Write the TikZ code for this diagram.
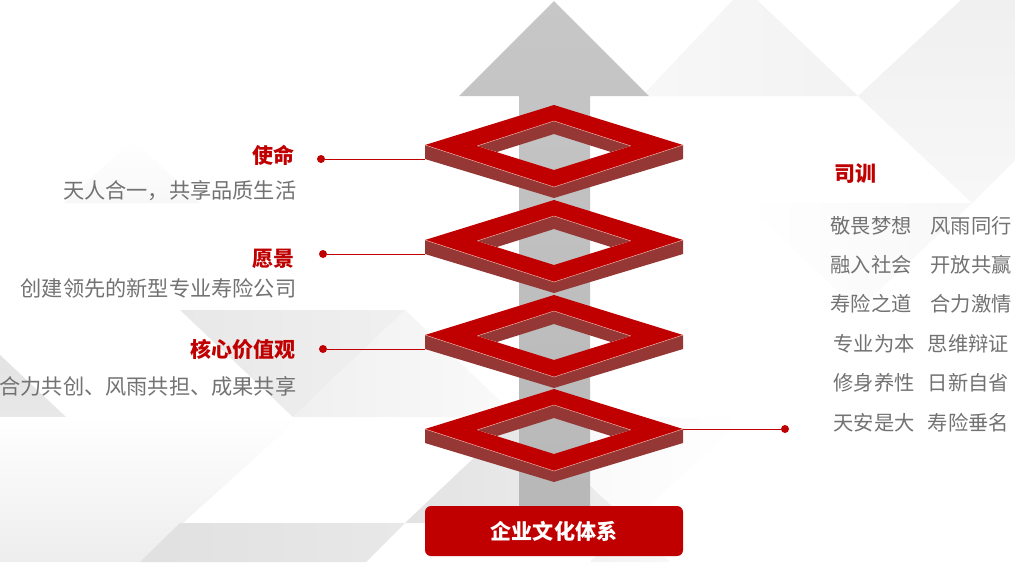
\documentclass[tikz,border=0pt]{standalone}
\usepackage{fontspec}
\setmainfont{Noto Sans CJK SC}
\newcommand{\ringat}[2]{%
\begin{scope}[shift={(0,#1)}]
\fill [ringwall] (425,145) -- (554,187) -- (683,145) -- (683,159) -- (554,198) -- (425,159) -- cycle;
\fill [ringwall] (477,146) -- (554,121) -- (631,146) -- (611,152) -- (554,134) -- (497,152) -- cycle;
\fill [ringtop, even odd rule] (425,145) -- (554,105) -- (683,145) -- (554,187) -- cycle (477,146) -- (554,121) -- (631,146) -- (554,170) -- cycle;
\draw [ringedge] (425,145) -- (554,187) -- (683,145);
\draw [ringedge] (477,146) -- (554,121) -- (631,146);
\coordinate (#2left) at (425,159);
\coordinate (#2right) at (683,145);
\end{scope}}

\begin{document}
\begin{tikzpicture}[x=0.75pt, y=-0.75pt,
  ringtop/.style = {fill=ringred},
  ringwall/.style = {fill=wallred},
  ringedge/.style = {draw=edgepink, line width=0.35pt},
  leader/.style = {draw=ringred, line width=0.75pt},
  dot/.style = {circle, fill=ringred, inner sep=0pt, minimum size=6pt},
  head/.style = {text=ringred, font=\fontsize{15.75}{18}\selectfont\bfseries},
  body/.style = {text=bodygray, font=\fontsize{15.9}{18}\selectfont},
  motto/.style = {text=bodygray, font=\fontsize{15.2}{18}\selectfont}]
\definecolor{ringred}{HTML}{C00000}
\definecolor{wallred}{HTML}{953735}
\definecolor{edgepink}{HTML}{E8B0A8}
\definecolor{bodygray}{HTML}{727272}
\useasboundingbox (0,0) rectangle (1015,562);
\fill [white] (0,0) rectangle (1015,562);

% pale background facets
\path [left color=black!3, right color=black!5] (642,96) -- (733,0) -- (757,0) -- (858,96) -- cycle;
\path [top color=black!6, bottom color=black!3] (858,96) -- (961,0) -- (1015,0) -- (1015,160) -- (972,203) -- cycle;
\path [left color=white, right color=black!3] (745,203) -- (972,203) -- (858,310) -- cycle;
\path [top color=white, bottom color=black!3] (64,203) -- (133,140) -- (200,203) -- cycle;
\path [left color=black!9, right color=black!6] (180,310) -- (405,310) -- (293,417) -- cycle;
\path [left color=black!6, right color=black!2] (293,417) -- (405,310) -- (517,417) -- cycle;
\path [top color=black!11, bottom color=black!9] (0,355) -- (66,417) -- (0,417) -- cycle;
\path [shading angle=-40, top color=white, middle color=white, bottom color=black!7] (0,417) -- (300,417) -- (140,562) -- (0,562) -- cycle;
\path [left color=black!12, right color=black!9] (180,523) -- (405,523) -- (366,562) -- (140,562) -- cycle;
\path [left color=black!11, right color=black!7] (405,523) -- (517,417) -- (630,523) -- cycle;
\path [left color=black!3, right color=white] (517,417) -- (745,417) -- (630,523) -- cycle;
\path [left color=black!5, right color=black!3] (590,562) -- (630,523) -- (670,562) -- cycle;

% arrow behind the rings
\path [top color=black!22, bottom color=black!28] (554,1) -- (649,96) -- (590,96) -- (590,506) -- (519,506) -- (519,96) -- (459,96) -- cycle;

\ringat{0}{mission}
\ringat{95}{vision}
\ringat{190}{values}
\ringat{284}{motto}

\node [fill=ringred, rounded corners=4.5pt, minimum width=193.5pt, minimum height=37.5pt, inner sep=0pt, text=white, font=\fontsize{15.8}{18}\selectfont\bfseries] (base) at (554,531) {企业文化体系};

% left labels
\node [dot] (missiondot) at (321,159) {};
\node [dot] (visiondot) at (323,254) {};
\node [dot] (valuesdot) at (323,349) {};
\node [dot] (mottodot) at (785,429) {};
\draw [leader] (missiondot) -- (missionleft);
\draw [leader] (visiondot) -- (visionleft);
\draw [leader] (valuesdot) -- (valuesleft);
\draw [leader] (mottoright) -- (mottodot);

\node [head, left, inner sep=0pt] (missionhead) at (295,155.5) {使命};
\node [body, left, inner sep=0pt] (missiontext) at (296.5,190.5) {天人合一，共享品质生活};
\node [head, left, inner sep=0pt] (visionhead) at (295,258.5) {愿景};
\node [body, left, inner sep=0pt] (visiontext) at (296.5,288.5) {创建领先的新型专业寿险公司};
\node [head, left, inner sep=0pt] (valueshead) at (296,349.5) {核心价值观};
\node [body, left, inner sep=0pt] (valuestext) at (296.5,386.5) {合力共创、风雨共担、成果共享};

% right column
\node [head] (mottohead) at (855,173.5) {司训};
\node [motto] (ma) at (871,225.5) {敬畏梦想};
\node [motto] (mb) at (971,225.5) {风雨同行};
\node [motto] (mc) at (871,264.5) {融入社会};
\node [motto] (md) at (971,264.5) {开放共赢};
\node [motto] (me) at (871,303.5) {寿险之道};
\node [motto] (mf) at (971,303.5) {合力激情};
\node [motto] (mg) at (874,343.5) {专业为本};
\node [motto] (mh) at (968.5,343.5) {思维辩证};
\node [motto] (mi) at (874,382.5) {修身养性};
\node [motto] (mj) at (968.5,382.5) {日新自省};
\node [motto] (mk) at (874,422.5) {天安是大};
\node [motto] (ml) at (968.5,422.5) {寿险垂名};
\end{tikzpicture}
\end{document}
